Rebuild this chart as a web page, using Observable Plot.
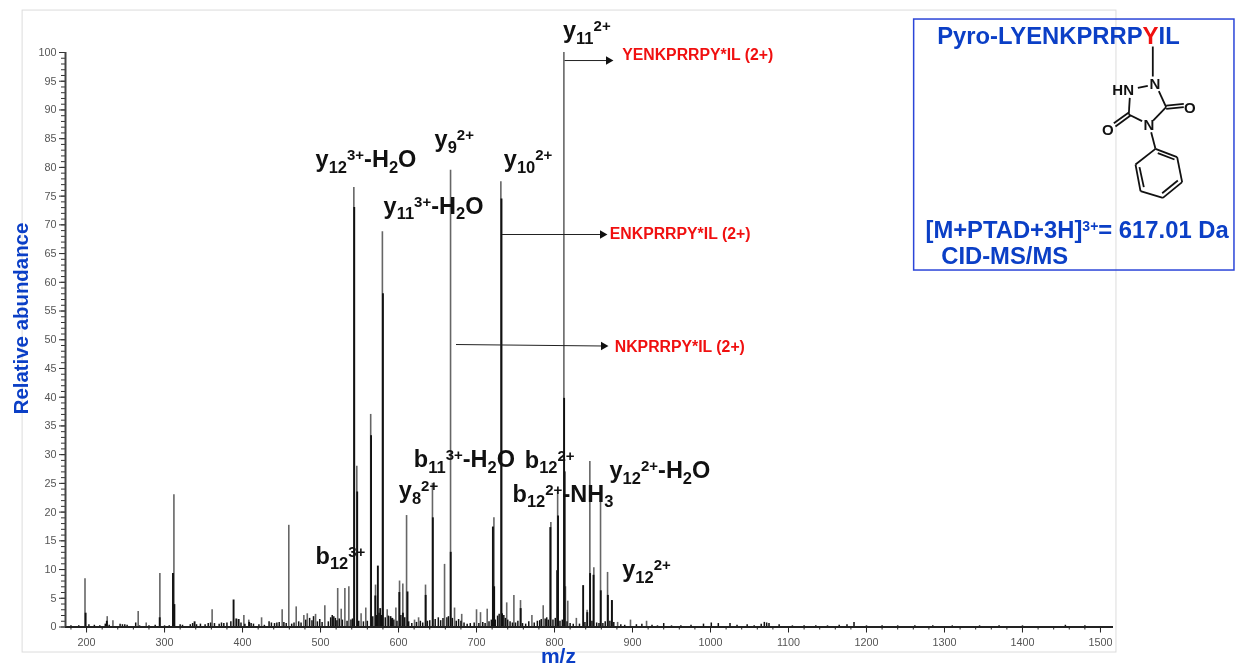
<!DOCTYPE html>
<html><head><meta charset="utf-8">
<script src="https://cdn.jsdelivr.net/npm/d3@7"></script>
<script src="https://cdn.jsdelivr.net/npm/@observablehq/plot@0.6"></script>
<style>
html,body{margin:0;padding:0;background:#fff}
svg{display:block;filter:blur(.4px)}
</style></head><body><div id="c"></div>
<script>
// Peaks: [m/z, relative abundance]
const lightPeaks = [[198,8.4],[226.5,1.8],[233.8,1.1],[266.2,2.7],[276.5,.7],[294,9.3],[312,23],[361,3],[401.7,2],[408,1.2],[424.4,1.6],[450.8,3],[459.3,17.7],[468.8,3.5],[478.6,2],[483,2.3],[493.6,2.2],[505.5,3.7],[522,6.7],[526.5,3.1],[531.2,6.7],[536.3,7],[542.7,76.5],[546.5,28],[552,2.3],[558,3.3],[564.3,37],[570.5,7.3],[579.3,68.8],[585.5,3],[596.6,3.3],[601.3,8],[605.5,7.5],[610.3,19.4],[620.5,1.2],[625.7,1.6],[634.6,7.3],[643.5,25],[659,10.9],[666.7,79.5],[671.8,3.3],[681,2.2],[700,3],[705.1,2.5],[713.7,3.1],[722.3,19],[731.2,77.5],[738.7,4.2],[747.9,5.5],[756.4,4.6],[771,2],[785.5,3.7],[795.3,18.2],[804,23.5],[812,100],[814,7],[817,4.5],[828,1.5],[841.8,2.9],[845.3,28.8],[850.4,10.3],[859,22],[868,9.5],[873.3,4.6],[880.9,.8],[897.4,1.2],[918,1]];
const darkPeaks = [[198.8,2.4],[226,1],[293.8,1.6],[310.8,9.3],[312.6,3.9],[338.5,.9],[388.5,4.7],[392,1.4],[395,1.3],[408.5,.8],[543.2,73],[547,23.5],[564.8,33.3],[570.2,5.4],[573.5,10.6],[576.5,3.2],[580,58],[589.7,1.8],[592,1.5],[601,6],[605.6,2.4],[611.5,6.1],[634.8,5.5],[644,19],[666.9,13],[721,17.4],[722.6,7],[732,74.5],[756.6,3.2],[794.6,17.3],[804.5,19.3],[803.4,9.8],[812.3,39.8],[813,27],[836.7,7.2],[842,2.5],[845.6,9.3],[850,9],[859.3,6.3],[868.4,5.5],[873.6,4.6]];
const noisePeaks = [[180,.2],[190,.2],[203,.4],[210,.3],[217,.2],[224,.5],[229,.3],[243,.5],[246,.4],[249,.4],[252,.3],[263,.7],[268,.2],[280,.2],[288,.3],[300,.2],[306,.2],[320,.4],[323,.3],[333,.4],[336,.6],[341,.4],[346,.5],[352,.4],[356,.6],[359,.7],[364,.6],[370,.5],[373,.7],[376,.6],[380,.7],[385,.9],[398,.7],[403,.5],[411,.6],[414,.5],[421,.4],[428,.3],[434,.9],[437,.7],[441,.6],[444,.7],[447,.8],[453,.8],[456,.6],[463,.5],[466,.7],[472,.9],[475,.7],[481,1.2],[486,1.5],[489,1.1],[491,1.8],[496,.9],[499,1.3],[502,.8],[510,.9],[513,1.6],[515,2],[517,1.8],[519,1.5],[521,1.1],[524,1.4],[528,1.2],[534,1],[539,1.2],[541,1.4],[549,1],[555,.9],[560,1],[567,1.8],[572,2],[575,2.4],[578,2],[583,1.6],[587,1.9],[591,1.4],[594,1.2],[598,1],[603,2],[608,1.6],[613,.9],[617,.6],[623,.8],[628,1],[631,.7],[637,1],[640,1.1],[647,1.3],[651,1.6],[654,1.1],[657,1.5],[662,1.6],[664,1.8],[669,1.5],[674,1],[677,1.3],[680,1],[684,.7],[688,.5],[692,.6],[697,.7],[703,.6],[708,.8],[711,.6],[716,.9],[719,1.2],[724,1.2],[727,1.9],[729,2.2],[733,2.3],[735,2],[737,1.5],[740,1.2],[743,.9],[746,.7],[750,.7],[753,1],[759,.6],[763,.5],[767,.9],[774,.7],[778,1],[781,1.1],[783,1.3],[788,1.4],[790,1.6],[792,1.2],[798,1.2],[801,1.5],[807,1],[810,1.2],[816,.9],[820,.6],[824,.5],[832,.5],[839,.8],[848,1],[854,.7],[857,.6],[862,.6],[865,.9],[871,1],[876,.8],[885,.4],[890,.3],[905,.4],[912,.5],[925,.3],[932,.2],[940,.6],[950,.2],[962,.2],[975,.3],[991,.5],[1001,.7],[1010,.6],[1025,.6],[1034,.3],[1047,.4],[1056,.2],[1065,.5],[1069,.8],[1072,.7],[1075,.6],[1088,.4],[1105,.2],[1120,.2],[1135,.2],[1150,.2],[1165,.3],[1175,.4],[1184,.8],[1200,.2],[1220,.2],[1240,.2],[1262,.2],[1285,.2],[1310,.2],[1345,.2],[1370,.2],[1400,.2],[1455,.3],[1480,.2]];

const xMajor = d3.range(200, 1501, 100);
const xMinor = d3.range(180, 1517, 20);
const yMajor = d3.range(0, 101, 5);
const yMinor = d3.range(0, 101, 1);

// Ion labels: [text, m/z, abundance]; _{} subscript, ^{} superscript
const ionLabels = [
  ["y_{11}^{2+}",810.9,102.52],["y_{12}^{3+}-H_{2}O",493.6,80.03],["y_{9}^{2+}",646.2,83.51],
  ["y_{10}^{2+}",735,80.03],["y_{11}^{3+}-H_{2}O",580.8,71.97],["b_{11}^{3+}-H_{2}O",619.6,27.81],
  ["b_{12}^{2+}",761.9,27.76],["b_{12}^{2+}-NH_{3}",746.2,21.84],["y_{12}^{2+}-H_{2}O",870.5,25.85],
  ["y_{8}^{2+}",600.4,22.37],["b_{12}^{3+}",493.6,11.05],["y_{12}^{2+}",886.8,8.67]];
const fragmentLabels = [["YENKPRRPY*IL (2+)",886.8,98.73],["ENKPRRPY*IL (2+)",870.9,67.45],["NKPRRPY*IL (2+)",877.3,47.87]];
const arrows = [[812.8,98.6,869.2,98.6],[732.7,68.32,861.5,68.32],[673.7,49.17,862.8,48.91]];
const insetTexts = [["Pyro-LYENKPRRP{Y}IL",1290.6,101.4],["[M+PTAD+3H]^{3+}= 617.01 Da",1275.6,67.74],["CID-MS/MS",1295.8,63.2]];
const bonds = [[1567.1,101.04,1567.1,95.82],[1547.9,93.85,1560.7,94.2],[1574.8,93.27,1584.2,90.48],[1584.2,90.77,1606.8,91.06],[1584.2,90.19,1606.8,90.48],[1584.2,90.48,1567.5,88.16],[1553.4,88.05,1536.3,89.21],[1536.3,89.21,1537.6,92.11],[1536.3,89.56,1517.1,87.7],[1538.5,89.03,1519.2,87.12],[1565,86.13,1570.5,83.23],[1570.5,83.23,1598.3,81.78],[1598.3,81.78,1604.7,77.43],[1604.7,77.43,1580,74.7],[1580,74.7,1551.3,75.86],[1551.3,75.86,1544.9,80.5],[1544.9,80.5,1570.5,83.23],[1573.5,82.48,1594.9,81.37],[1550,80.04,1555.6,76.56],[1579.1,75.51,1599.2,77.72]];
const atoms = [["N",1569.7,94.55],["HN",1529.1,93.5],["O",1614.5,90.31],["N",1562,87.29],["O",1509.4,86.54]];

const BLUE = "#0b3fc6", FONT = "Liberation Sans, Arial, sans-serif";
const g = d => d[0], v = d => d[1];

const plot = Plot.plot({
  width: 1235, height: 667,
  marginLeft: 65, marginRight: 122, marginTop: 52, marginBottom: 40.5,
  style: {fontFamily: FONT, background: "#fff"},
  x: {domain: [173, 1516.7]},
  y: {domain: [0, 100]},
  marks: [
    Plot.rect([[118,1520.5,-4.44,107.3]], {x1:d=>d[0], x2:d=>d[1], y1:d=>d[2], y2:d=>d[3], stroke:"#dcdcdc", fill:"none", strokeWidth:1}),
    Plot.rect([[1261.1,1671.8,62.05,105.74]], {x1:d=>d[0], x2:d=>d[1], y1:d=>d[2], y2:d=>d[3], stroke:"#2b45d8", fill:"none", strokeWidth:1.5}),
    Plot.axisX({ticks:xMinor, tickSize:3, stroke:"#222", tickFormat:()=>"", label:null}),
    Plot.axisX({ticks:xMajor, tickSize:6, tickPadding:5, stroke:"#222", fill:"#555", fontSize:10.8, tickFormat:d=>`${d}`, label:null}),
    Plot.axisY({ticks:yMinor, tickSize:4, stroke:"#333", tickFormat:()=>"", label:null}),
    Plot.axisY({ticks:yMajor, tickSize:6, tickPadding:3, stroke:"#333", fill:"#555", fontSize:10.8, tickFormat:d=>`${d}`, label:null}),
    Plot.ruleX(lightPeaks, {x:g, y1:0, y2:v, stroke:"#666", strokeWidth:1.6}),
    Plot.ruleX(noisePeaks, {x:g, y1:0, y2:v, stroke:"#111", strokeWidth:1.5}),
    Plot.ruleX(darkPeaks, {x:g, y1:0, y2:v, stroke:"#111", strokeWidth:1.9}),
    Plot.ruleY([0], {stroke:"#222", strokeWidth:1.8}),
    Plot.ruleX([173], {y1:0, y2:100, stroke:"#444", strokeWidth:2}),
    Plot.link(arrows, {x1:d=>d[0], y1:d=>d[1], x2:d=>d[2], y2:d=>d[3], stroke:"#222", strokeWidth:1}),
    Plot.dot(arrows, {x:d=>d[2], y:d=>d[3], symbol:"triangle", rotate:90, r:3.2, fill:"#111", stroke:"none"}),
    Plot.link(bonds, {x1:d=>d[0], y1:d=>d[1], x2:d=>d[2], y2:d=>d[3], stroke:"#111", strokeWidth:1.8}),
    Plot.text(atoms, {text:g, x:d=>d[1], y:d=>d[2], fontSize:15, fill:"#111", fontWeight:"bold"}),
    Plot.text(ionLabels, {text:g, x:d=>d[1], y:d=>d[2], textAnchor:"start", lineAnchor:"bottom", fontSize:23.5, fontWeight:"bold", fill:"#111"}),
    Plot.text(fragmentLabels, {text:g, x:d=>d[1], y:d=>d[2], textAnchor:"start", lineAnchor:"bottom", fontSize:15.8, fontWeight:"bold", fill:"#f01010"}),
    Plot.text(insetTexts, {text:g, x:d=>d[1], y:d=>d[2], textAnchor:"start", lineAnchor:"bottom", fontSize:23.8, fontWeight:"bold", fill:BLUE}),
    Plot.text(["m/z"], {x:[805], y:[-6.2], lineAnchor:"bottom", fontSize:21, fontWeight:"bold", fill:BLUE}),
    Plot.text(["Relative abundance"], {x:[124.4], y:[53.7], rotate:-90, lineAnchor:"bottom", fontSize:20.4, fontWeight:"bold", fill:BLUE})
  ]
});

// Turn the _{..} ^{..} {..} markup into real tspans
d3.select(plot).selectAll("text").each(function(){
  const s = this.textContent;
  if (!/[_^{]/.test(s)) return;
  const sel = d3.select(this);
  const base = parseFloat(sel.attr("font-size")) || 23;
  const inset = !/^[yb]_/.test(s);
  this.textContent = "";
  let cur = 0;
  for (const m of s.matchAll(/_\{([^}]*)\}|\^\{([^}]*)\}|\{([^}]*)\}|([^_^{]+)/g)) {
    const t = sel.append("tspan");
    let off = 0;
    if (m[1] != null) { t.text(m[1]).attr("font-size", 16.5); off = 5.5; }
    else if (m[2] != null) { t.text(m[2]).attr("font-size", inset ? 14 : 15); off = -7; }
    else if (m[3] != null) { t.text(m[3]).attr("fill", "#f01010").attr("font-size", base + 1); }
    else t.text(m[4]);
    t.attr("dy", off - cur);
    cur = off;
  }
});
document.getElementById("c").append(plot);
</script></body></html>
